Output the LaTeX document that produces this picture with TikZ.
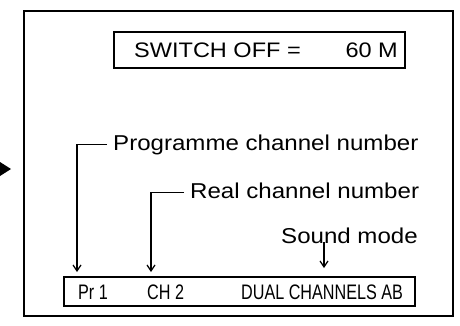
\documentclass[tikz,border=0pt]{standalone}
\usepackage{fontspec}
\setmainfont{Liberation Sans}
\newfontfamily\widefont[FakeStretch=1.12]{Liberation Sans}
\newfontfamily\narrowfont[FakeStretch=0.77]{Liberation Sans}
\usepackage{tikz}
\usetikzlibrary{arrows.meta, positioning}
\tikzset{
  screen/.style={draw, line width=1.9pt},
  osdbox/.style={draw, line width=1.5pt, inner sep=0pt, anchor=north west},
  osdtext/.style={font=\widefont\fontsize{21}{24}\selectfont, inner sep=0pt},
  statustext/.style={font=\narrowfont\fontsize{21}{23}\selectfont,
    inner sep=0pt, anchor=base west},
  caption/.style={font=\widefont\fontsize{21.5}{25}\selectfont, anchor=base west,
    inner xsep=6pt, inner ysep=0pt, text height=16pt, text depth=5pt},
  lead/.style={line width=1.2pt, -{Straight Barb[length=6pt, width=8pt]}},
}

\begin{document}
\begin{tikzpicture}[x=1pt, y=1pt]
  \useasboundingbox (0,0) rectangle (460,-325);
  % screen frame and the pointer beside it
  \draw[screen] (24,-11) rectangle (453,-316);
  \fill (0,-162) -- (11,-169) -- (0,-176) -- cycle;

  % timer display
  \node[osdbox, minimum width=291pt, minimum height=36pt] (timer) at (113,-31) {};
  \node[osdtext, anchor=base west] (swoff) at (134,-57) {SWITCH OFF =};
  \node[osdtext, anchor=base east] (mins) at (398,-57) {60 M};

  % status line
  \node[osdbox, minimum width=351pt, minimum height=29pt] (status) at (63,-276) {};
  \node[statustext] (pr) at (78,-299) {Pr 1};
  \node[statustext] (ch) at (147,-299) {CH 2};
  \node[statustext] (dual) at (241,-299) {DUAL CHANNELS AB};

  % callouts
  \node[caption] (prog) at (107,-150) {Programme channel number};
  \node[caption] (real) at (184,-198) {Real channel number};
  \node[caption, inner xsep=0pt] (snd) at (281,-243) {Sound mode};
  \coordinate (prtip) at (77,-272);
  \coordinate (chtip) at (151,-272);
  \coordinate (sndtip) at (324,-268);

  \draw[lead] (prog.west) -| (prtip);
  \draw[lead] (real.west) -| (chtip);
  \draw[lead] ([yshift=1pt]snd.base -| sndtip) -- (sndtip);
\end{tikzpicture}
\end{document}
